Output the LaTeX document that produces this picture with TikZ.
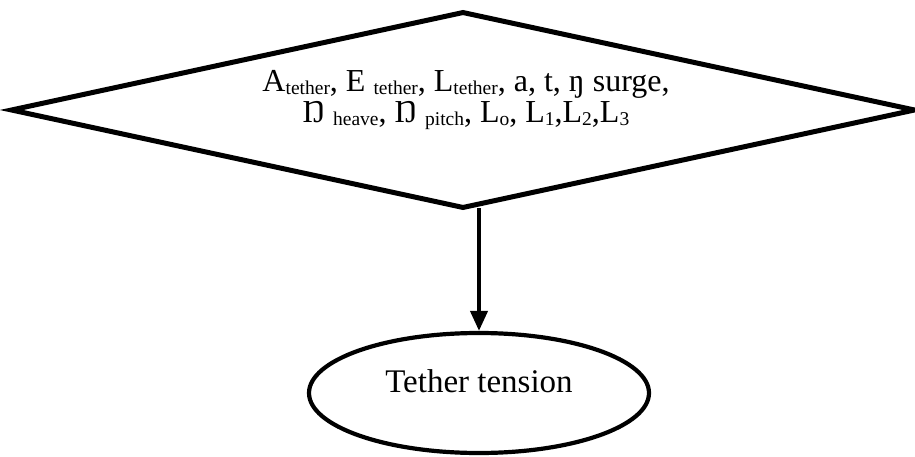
\documentclass[tikz,border=0pt]{standalone}
\usepackage{fontspec}
\setmainfont{Liberation Serif}
\usetikzlibrary{shapes.geometric,arrows.meta}
\newcommand{\sbx}[1]{\raisebox{-0.12em}{\fontsize{19.5}{19.5}\selectfont #1}}
\tikzset{
  decision/.style={diamond, draw, line width=5pt, inner sep=0pt, aspect=4.6,
    minimum width=905pt, minimum height=197pt},
  dlabel/.style={align=center, inner sep=0pt, font=\fontsize{32}{31}\selectfont},
  terminal/.style={ellipse, draw, line width=4.2pt, inner sep=0pt,
    minimum width=340pt, minimum height=120pt, font=\fontsize{33}{33}\selectfont,
    text height=10pt, text depth=12pt},
  flow/.style={line width=4pt, -{Triangle[length=20pt,width=17pt]}}
}
\begin{document}
\begin{tikzpicture}[x=1pt,y=-1pt]
\useasboundingbox (0,0) rectangle (915,457);
\node[decision] (dia) at (463,110) {};
\node[dlabel] (dtxt) at (466,100) {A\sbx{tether}, E \sbx{tether}, L\sbx{tether}, a, t, ŋ surge,\\
Ŋ \sbx{heave}, Ŋ \sbx{pitch}, L\sbx{o}, L\sbx{1},L\sbx{2},L\sbx{3}};
\node[terminal] (ell) at (479,393) {Tether tension};
\draw[flow] (ell.north |- dia.south) ++(0,-3) -- (ell.north);
\end{tikzpicture}
\end{document}
